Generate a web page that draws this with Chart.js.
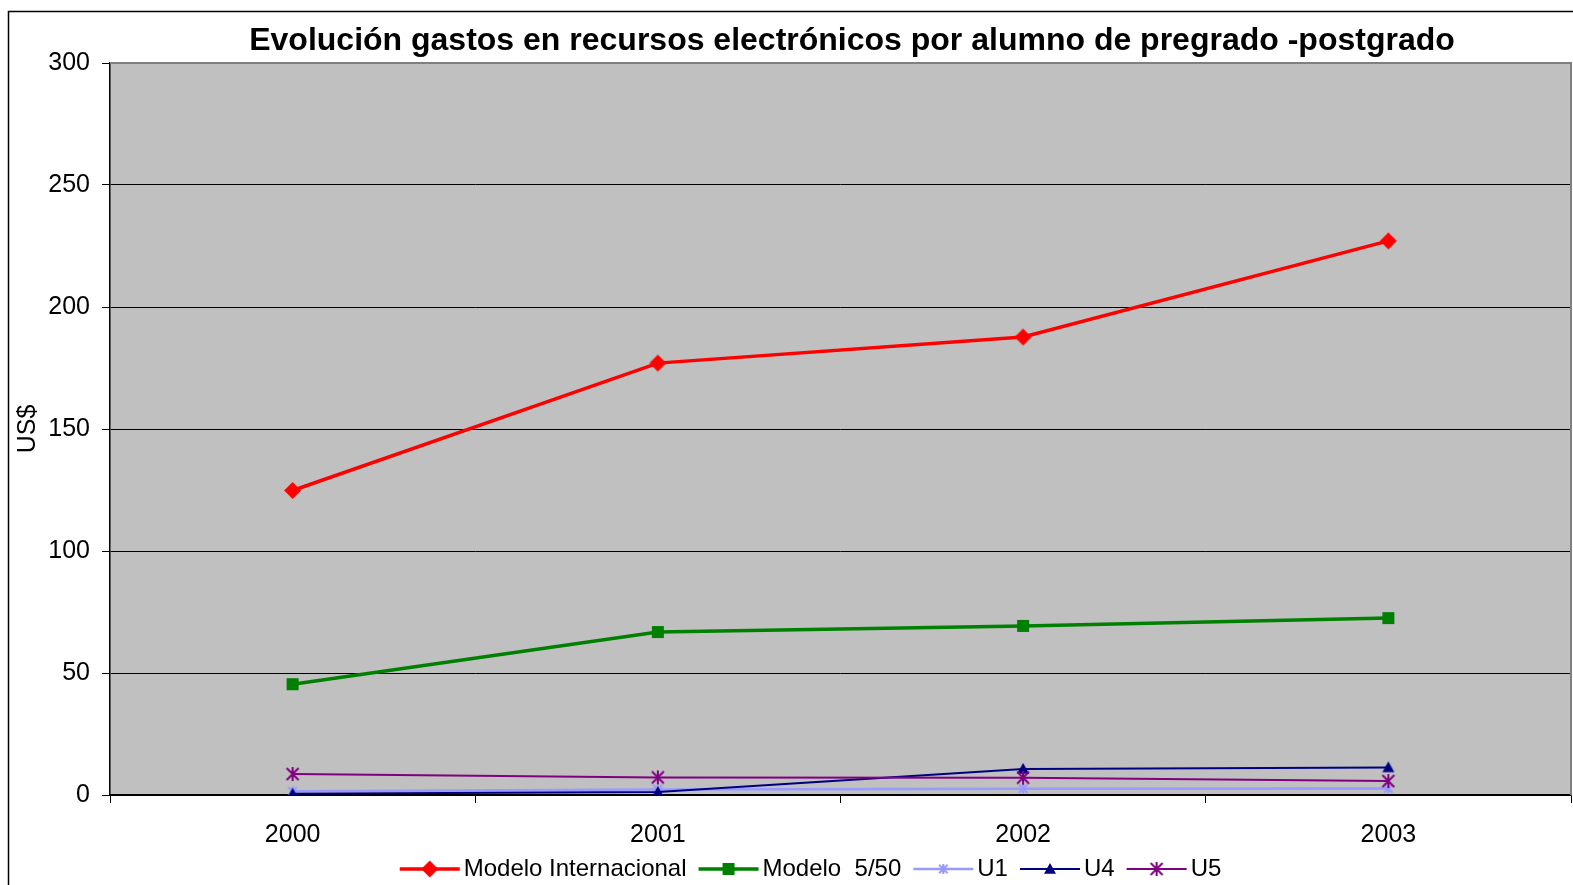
<!DOCTYPE html>
<html>
<head>
<meta charset="utf-8">
<script src="https://cdn.jsdelivr.net/npm/chart.js@4/dist/chart.umd.min.js"></script>
<style>
  html, body { margin: 0; padding: 0; background: #ffffff; }
  #wrap { position: relative; width: 1573px; height: 885px; }
</style>
</head>
<body>
<div id="wrap"><canvas id="chart" width="1573" height="885"></canvas></div>
<script>
// Years on the horizontal axis
const years = ['2000', '2001', '2002', '2003'];

// Spending on electronic resources per student (US$)
const modeloInternacional = [124.8, 177.0, 187.7, 227.1];
const modelo550 = [45.4, 66.8, 69.3, 72.5];
const u1 = [1.5, 2.3, 2.6, 2.7];
const u4 = [0.5, 1.2, 10.7, 11.3];
const u5 = [8.6, 7.2, 7.1, 5.7];

// Series names shown in the legend
const seriesNames = ['Modelo Internacional', 'Modelo  5/50', 'U1', 'U4', 'U5'];

const titleText = 'Evolución gastos en recursos electrónicos por alumno de pregrado -postgrado';
const FONT = "'Liberation Sans', Arial, sans-serif";

// ---- marker drawing helpers ----
function drawMarker(ctx, kind, cx, cy, r, color) {
  ctx.fillStyle = color;
  ctx.strokeStyle = color;
  if (kind === 'diamond') {
    ctx.beginPath();
    ctx.moveTo(cx, cy - r); ctx.lineTo(cx + r, cy); ctx.lineTo(cx, cy + r); ctx.lineTo(cx - r, cy);
    ctx.closePath(); ctx.fill();
  } else if (kind === 'square') {
    ctx.fillRect(cx - r, cy - r, 2 * r, 2 * r);
  } else if (kind === 'triangle') {
    ctx.beginPath();
    ctx.moveTo(cx, cy - r); ctx.lineTo(cx + r, cy + r * 0.8); ctx.lineTo(cx - r, cy + r * 0.8);
    ctx.closePath(); ctx.fill();
  } else if (kind === 'asterisk') {
    ctx.lineWidth = 2;
    ctx.beginPath();
    ctx.moveTo(cx, cy - r); ctx.lineTo(cx, cy + r);
    ctx.moveTo(cx - r * 0.85, cy - r * 0.85); ctx.lineTo(cx + r * 0.85, cy + r * 0.85);
    ctx.moveTo(cx + r * 0.85, cy - r * 0.85); ctx.lineTo(cx - r * 0.85, cy + r * 0.85);
    ctx.stroke();
  }
}

function markerCanvas(kind, r, color) {
  const c = document.createElement('canvas');
  const s = Math.ceil(r * 2 + 4);
  c.width = s; c.height = s;
  drawMarker(c.getContext('2d'), kind, s / 2, s / 2, r, color);
  return c;
}

// Legend swatch: a short line with the series marker, shifted right inside the image
function legendCanvas(kind, r, color, lw) {
  const c = document.createElement('canvas');
  c.width = 80; c.height = 22;
  const ctx = c.getContext('2d');
  ctx.strokeStyle = color;
  ctx.lineWidth = lw;
  ctx.beginPath(); ctx.moveTo(16, 11); ctx.lineTo(76, 11); ctx.stroke();
  drawMarker(ctx, kind, 46, 11, r, color);
  return c;
}

const styles = [
  { color: '#FF0000', width: 3.5, kind: 'diamond', r: 8.5, lr: 8.5, order: 4 },
  { color: '#008000', width: 3.5, kind: 'square', r: 6, lr: 6, order: 3 },
  { color: '#9999FF', width: 2.5, kind: 'asterisk', r: 5, lr: 5, order: 2 },
  { color: '#000080', width: 2, kind: 'triangle', r: 6, lr: 6, order: 1 },
  { color: '#800080', width: 2, kind: 'asterisk', r: 7, lr: 7, order: 0 }
];
const seriesValues = [modeloInternacional, modelo550, u1, u4, u5];

const legendImages = styles.map(s => legendCanvas(s.kind, s.lr, s.color, s.width));

const datasets = seriesValues.map((vals, i) => ({
  label: seriesNames[i],
  data: vals,
  borderColor: styles[i].color,
  backgroundColor: styles[i].color,
  borderWidth: styles[i].width,
  pointStyle: markerCanvas(styles[i].kind, styles[i].r, styles[i].color),
  tension: 0,
  order: styles[i].order
}));

// Plot background, outer frame and heading
const decor = {
  id: 'decor',
  beforeDraw(chart) {
    const { ctx, chartArea: a } = chart;
    ctx.save();
    ctx.fillStyle = '#ffffff';
    ctx.fillRect(0, 0, chart.width, chart.height);
    ctx.fillStyle = '#C0C0C0';
    ctx.fillRect(a.left, a.top, a.right - a.left, a.bottom - a.top);
    ctx.strokeStyle = '#000000';
    ctx.lineWidth = 1.5;
    ctx.strokeRect(8.5, 11.5, chart.width + 20, chart.height + 20);
    ctx.restore();
  },
  afterDraw(chart) {
    const { ctx, chartArea: a } = chart;
    ctx.save();
    ctx.strokeStyle = '#808080';
    ctx.lineWidth = 2;
    ctx.beginPath();
    ctx.moveTo(a.left, a.top); ctx.lineTo(a.right, a.top); ctx.lineTo(a.right, a.bottom);
    ctx.stroke();
    ctx.fillStyle = '#000000';
    ctx.font = 'bold 32px ' + FONT;
    ctx.textAlign = 'center';
    ctx.textBaseline = 'middle';
    ctx.fillText(titleText, 852, 41);
    ctx.restore();
  }
};

new Chart(document.getElementById('chart'), {
  type: 'line',
  data: { labels: years, datasets },
  plugins: [decor],
  options: {
    responsive: false,
    animation: false,
    devicePixelRatio: 1,
    layout: { autoPadding: false, padding: { left: 46, right: 2, top: 63, bottom: -6 } },
    plugins: {
      title: { display: false },
      tooltip: { enabled: false },
      legend: {
        position: 'bottom',
        labels: {
          color: '#000000',
          font: { family: FONT, size: 24 },
          usePointStyle: true,
          pointStyleWidth: 56,
          padding: 8,
          generateLabels(chart) {
            const items = Chart.defaults.plugins.legend.labels.generateLabels(chart);
            items.sort((p, q) => p.datasetIndex - q.datasetIndex);
            items.forEach(it => { it.pointStyle = legendImages[it.datasetIndex]; });
            return items;
          }
        }
      }
    },
    scales: {
      x: {
        type: 'category',
        offset: true,
        afterFit(scale) { scale.height = 54; scale.paddingLeft = 0; scale.paddingRight = 0; },
        grid: {
          display: true,
          drawOnChartArea: false,
          drawTicks: true,
          tickLength: 8,
          color: '#000000',
          offset: true
        },
        border: { display: true, color: '#000000', width: 1.5 },
        ticks: {
          color: '#000000',
          font: { family: FONT, size: 25 },
          padding: 17,
          maxRotation: 0
        }
      },
      y: {
        min: 0,
        max: 300,
        afterFit(scale) { scale.width = 64; },
        grid: {
          color: '#000000',
          lineWidth: 1,
          tickLength: 8,
          drawTicks: true
        },
        border: { display: true, color: '#000000', width: 1.5 },
        ticks: {
          stepSize: 50,
          color: '#000000',
          font: { family: FONT, size: 25 },
          padding: 12
        },
        title: {
          display: true,
          text: 'US$',
          color: '#000000',
          font: { family: FONT, size: 25 },
          padding: { top: -33, bottom: 0 }
        }
      }
    }
  }
});
</script>
</body>
</html>
